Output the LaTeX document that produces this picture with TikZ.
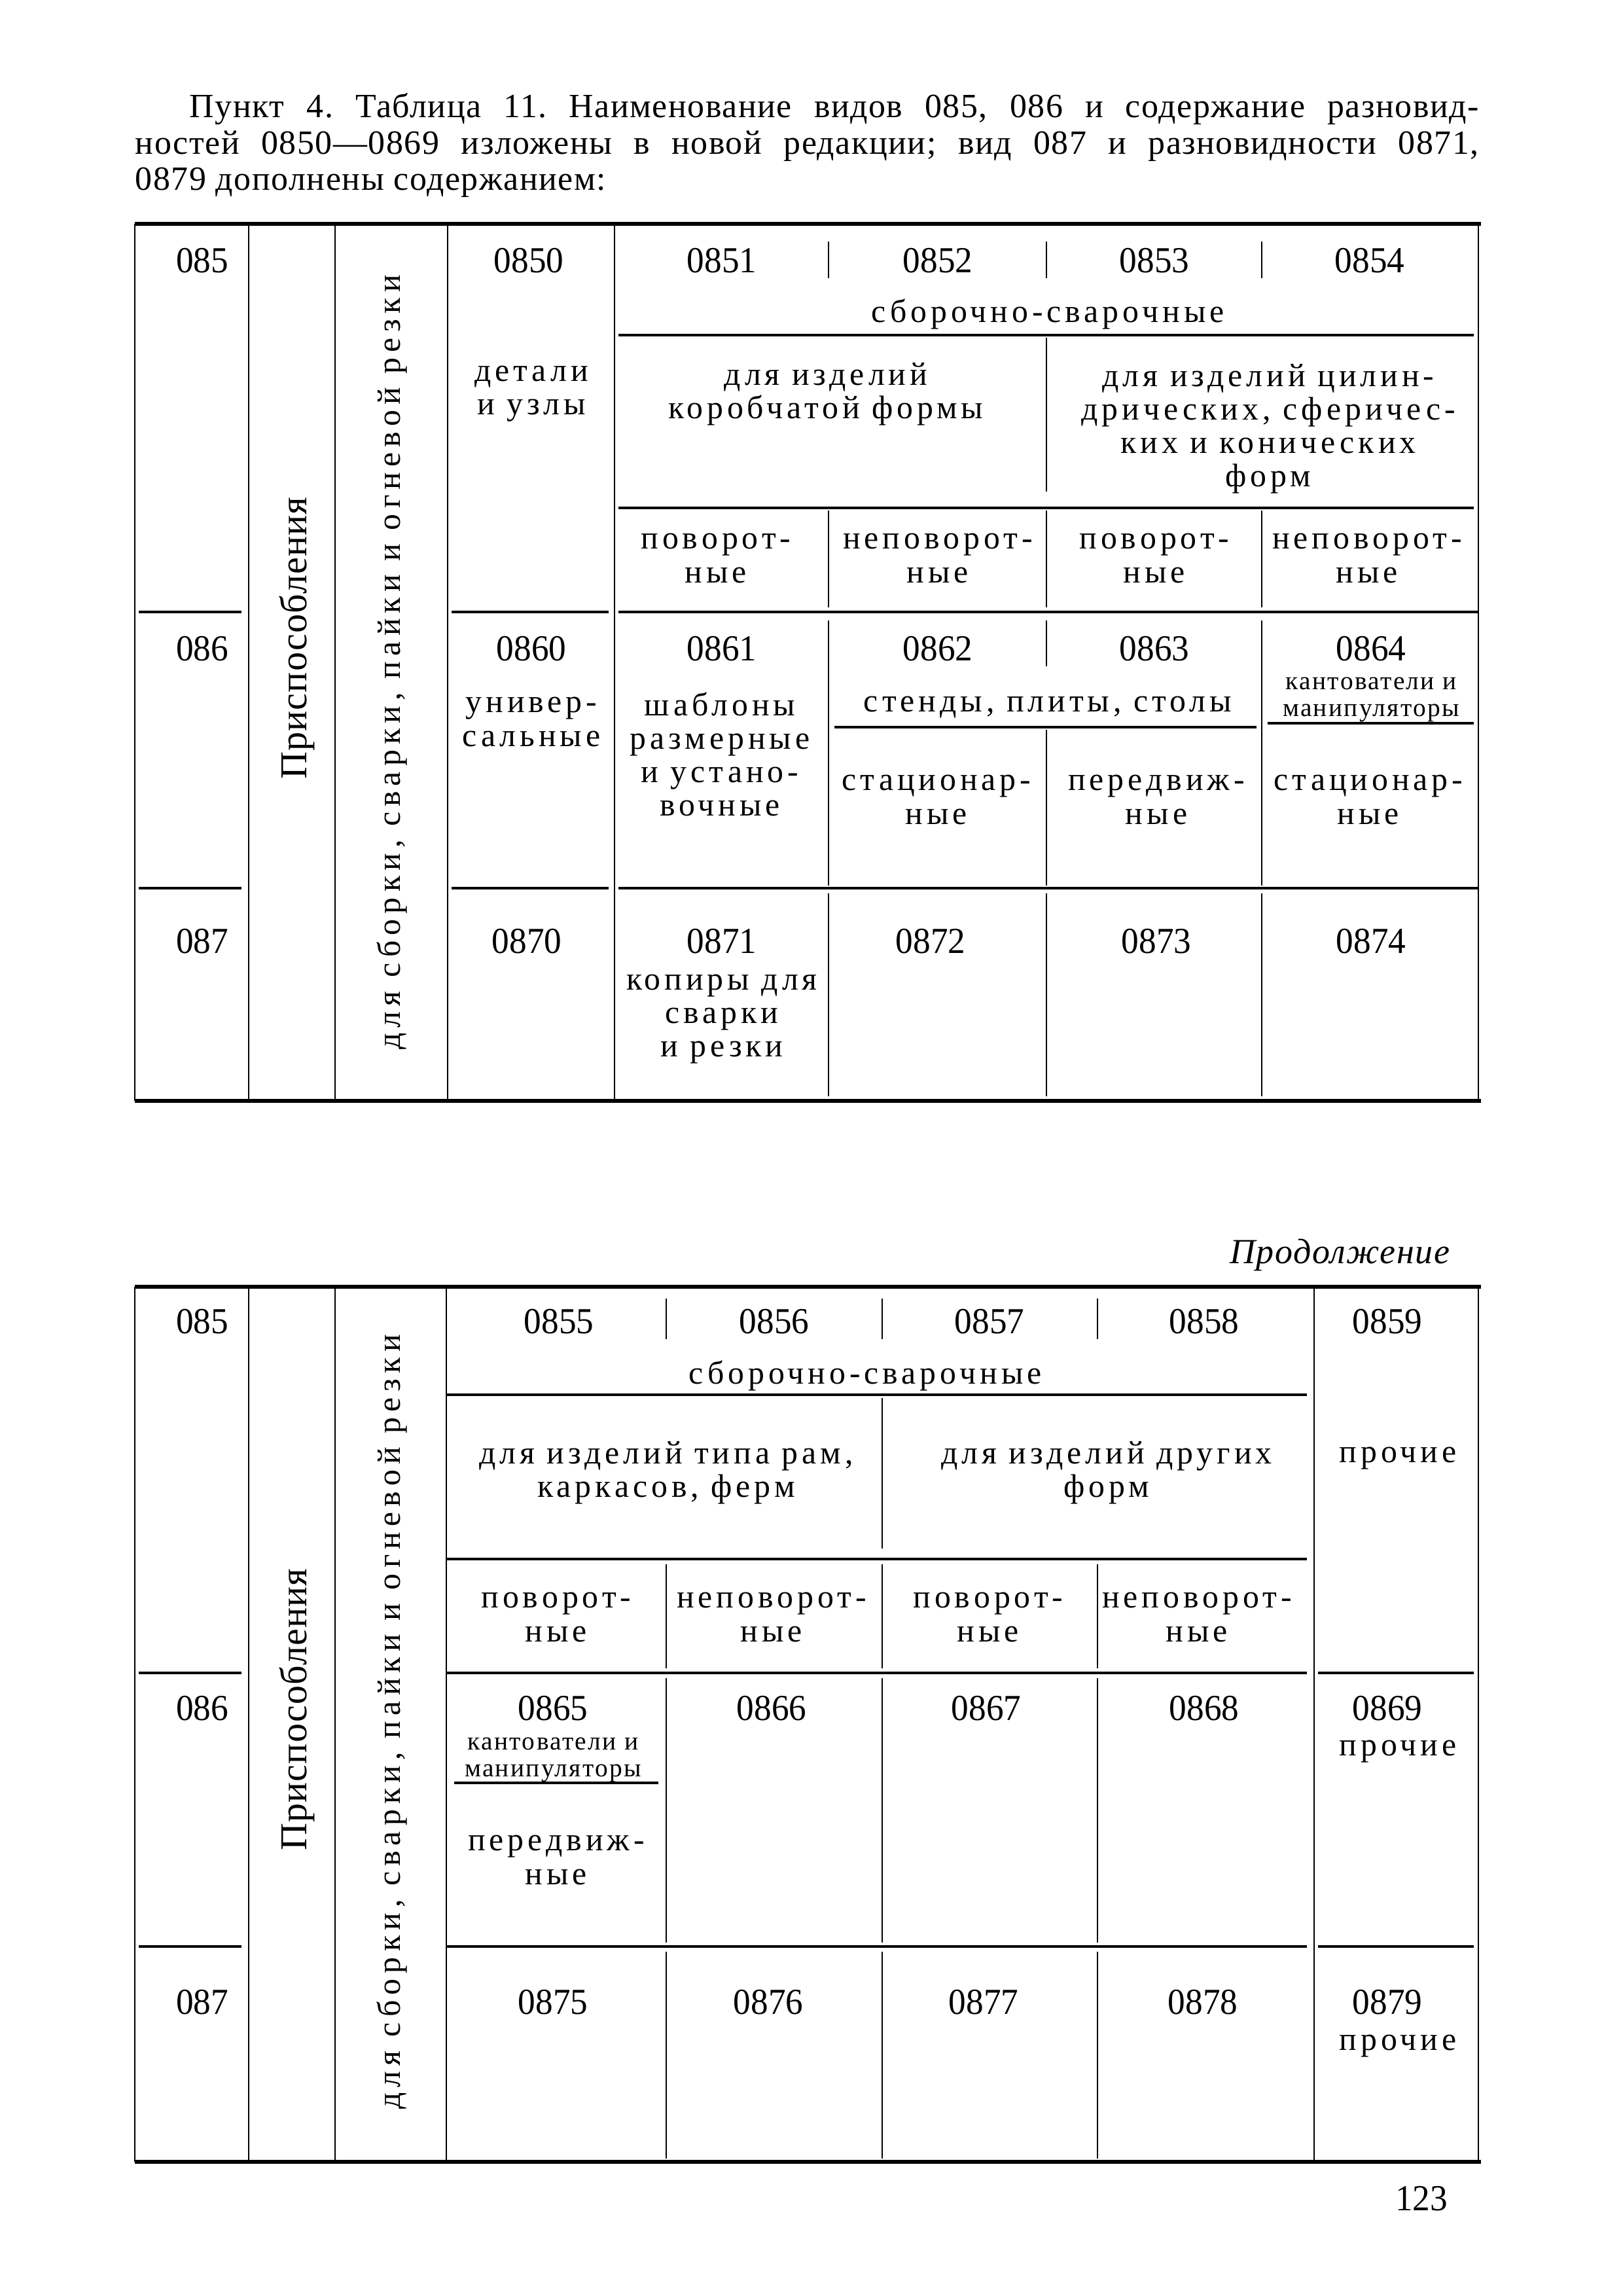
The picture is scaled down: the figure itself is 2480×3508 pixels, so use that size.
\documentclass[tikz,border=0pt]{standalone}
\usepackage{fontspec}
\setmainfont{Liberation Serif}
\newfontfamily\digfamily[FakeStretch=0.95]{Liberation Serif}
\newfontfamily\tabfamily[LetterSpace=12]{Liberation Serif}
\newfontfamily\rotfamily[LetterSpace=16.5]{Liberation Serif}
\newfontfamily\prisfamily[LetterSpace=2]{Liberation Serif}
\newfontfamily\smlfamily[LetterSpace=6]{Liberation Serif}
\newfontfamily\parfamily[LetterSpace=3]{Liberation Serif}
\newfontfamily\contfont[LetterSpace=3]{Liberation Serif}
\tikzset{
  num/.style={font=\digfamily\fontsize{13.5}{13.5}\selectfont, inner sep=0pt},
  txt/.style={font=\tabfamily\fontsize{12}{12.3}\selectfont, align=center, inner sep=0pt},
  sml/.style={font=\smlfamily\fontsize{9.5}{9.7}\selectfont, align=center, inner sep=0pt},
  rottxt/.style={font=\rotfamily\fontsize{12}{12}\selectfont, rotate=90, inner sep=0pt},
  pristxt/.style={font=\prisfamily\fontsize{14}{14}\selectfont, rotate=90, inner sep=0pt},
  vl/.style={line width=0.6pt},
  hl/.style={line width=0.8pt},
  thk/.style={line width=1.3pt},
}
\begin{document}
\begin{tikzpicture}[x=0.2409pt,y=-0.2409pt]
\useasboundingbox (0,0) rectangle (2480,3508);
\fill[white] (0,0) rectangle (2480,3508);

% ---------- paragraph ----------
\node[anchor=north west, inner sep=0pt, text width=494.6pt, align=justify,
      font=\parfamily\fontsize{12.5}{13.3}\selectfont\frenchspacing] (para) at (206,142)
 {\hspace*{20pt}Пункт 4. Таблица 11. Наименование видов 085, 086 и содержание разновид-\linebreak
 ностей 0850—0869 изложены в новой редакции; вид 087 и разновидности 0871,\linebreak
 0879 дополнены содержанием:};

% ---------- top table lines ----------
\draw[thk] (206,342) -- (2263,342);
\draw[thk] (206,1682) -- (2263,1682);
\foreach \x in {206,380,512,684,939,2259} \draw[vl] (\x,342) -- (\x,1682);
\foreach \x in {1266,1599,1928} \draw[vl] (\x,369) -- (\x,425);
\draw[vl] (1599,516) -- (1599,751);
\foreach \x in {1266,1599,1928} \draw[vl] (\x,780) -- (\x,928);
\draw[vl] (1266,948) -- (1266,1353);
\draw[vl] (1599,948) -- (1599,1018);
\draw[vl] (1599,1115) -- (1599,1353);
\draw[vl] (1928,948) -- (1928,1353);
\foreach \x in {1266,1599,1928} \draw[vl] (\x,1365) -- (\x,1675);
\draw[hl] (945,512) -- (2252,512);
\draw[hl] (945,776) -- (2252,776);
\draw[hl] (1275,1111) -- (1920,1111);
\draw[hl] (1937,1105) -- (2252,1105);
\foreach \y in {935,1357} {
  \draw[hl] (212,\y) -- (369,\y);
  \draw[hl] (690,\y) -- (930,\y);
  \draw[hl] (945,\y) -- (2259,\y);
}

% ---------- top table text ----------
\node[num] (t085) at (309,398) {085};
\node[num] (t086) at (309,991) {086};
\node[num] (t087) at (309,1438) {087};
\node[pristxt] (tpris) at (454,975) {Приспособления};
\node[rottxt] (tdlya) at (599,1012) {для сборки, сварки, пайки и огневой резки};

\node[num] (t0850) at (808,398) {0850};
\node[num] (t0851) at (1103,398) {0851};
\node[num] (t0852) at (1433,398) {0852};
\node[num] (t0853) at (1764,398) {0853};
\node[num] (t0854) at (2093,398) {0854};
\node[txt] (tdet) at (812,602) {детали\\и узлы};
\node[txt] (tsb) at (1601,480) {сборочно-сварочные};
\node[txt] (tkor) at (1262,602) {для изделий\\коробчатой формы};
\node[txt] (tcil) at (1938,655) {для изделий цилин-\\дрических, сферичес-\\ких и конических\\форм};
\node[txt] (tp1) at (1094,853) {поворот-\\ные};
\node[txt] (tn1) at (1433,853) {неповорот-\\ные};
\node[txt] (tp2) at (1764,853) {поворот-\\ные};
\node[txt] (tn2) at (2089,853) {неповорот-\\ные};

\node[num] (t0860) at (812,991) {0860};
\node[num] (t0861) at (1103,991) {0861};
\node[num] (t0862) at (1433,991) {0862};
\node[num] (t0863) at (1764,991) {0863};
\node[num] (t0864) at (2095,991) {0864};
\node[txt] (tuni) at (812,1103) {универ-\\сальные};
\node[txt] (tsha) at (1100,1152) {шаблоны\\размерные\\и устано-\\вочные};
\node[txt] (tste) at (1601,1081) {стенды, плиты, столы};
\node[sml] (tkan) at (2095,1069) {кантователи и\\манипуляторы};
\node[txt] (tst1) at (1431,1222) {стационар-\\ные};
\node[txt] (tpe1) at (1767,1222) {передвиж-\\ные};
\node[txt] (tst2) at (2091,1222) {стационар-\\ные};

\node[num] (t0870) at (805,1438) {0870};
\node[num] (t0871) at (1103,1438) {0871};
\node[num] (t0872) at (1422,1438) {0872};
\node[num] (t0873) at (1767,1438) {0873};
\node[num] (t0874) at (2095,1438) {0874};
\node[txt] (tkop) at (1103,1557) {копиры для\\сварки\\и резки};

% ---------- continuation ----------
\node[anchor=east, inner sep=0pt, font=\contfont\itshape\fontsize{13}{13}\selectfont] (cont) at (2216,1917) {Продолжение};

% ---------- bottom table lines ----------
\draw[thk] (206,1966) -- (2263,1966);
\draw[thk] (206,3303) -- (2263,3303);
\foreach \x in {206,380,512,682,2008,2259} \draw[vl] (\x,1966) -- (\x,3303);
\foreach \x in {1018,1348,1677} \draw[vl] (\x,1984) -- (\x,2046);
\draw[vl] (1348,2136) -- (1348,2366);
\foreach \x in {1018,1348,1677} {
  \draw[vl] (\x,2390) -- (\x,2549);
  \draw[vl] (\x,2564) -- (\x,2968);
  \draw[vl] (\x,2982) -- (\x,3298);
}
\draw[hl] (682,2131) -- (1997,2131);
\draw[hl] (682,2382) -- (1997,2382);
\foreach \y in {2556,2974} {
  \draw[hl] (212,\y) -- (369,\y);
  \draw[hl] (682,\y) -- (1997,\y);
  \draw[hl] (2014,\y) -- (2252,\y);
}
\draw[hl] (694,2724) -- (1006,2724);

% ---------- bottom table text ----------
\node[num] (b085) at (309,2019) {085};
\node[num] (b086) at (309,2610) {086};
\node[num] (b087) at (309,3059) {087};
\node[pristxt] (bpris) at (454,2612) {Приспособления};
\node[rottxt] (bdlya) at (599,2631) {для сборки, сварки, пайки и огневой резки};

\node[num] (b0855) at (854,2019) {0855};
\node[num] (b0856) at (1183,2019) {0856};
\node[num] (b0857) at (1512,2019) {0857};
\node[num] (b0858) at (1840,2019) {0858};
\node[num] (b0859) at (2120,2019) {0859};
\node[txt] (bsb) at (1322,2102) {сборочно-сварочные};
\node[txt] (bram) at (1018,2250) {для изделий типа рам,\\каркасов, ферм};
\node[txt] (bdr) at (1691,2250) {для изделий других\\форм};
\node[txt] (bpr1) at (2136,2228) {прочие};
\node[txt] (bp1) at (850,2471) {поворот-\\ные};
\node[txt] (bn1) at (1179,2471) {неповорот-\\ные};
\node[txt] (bp2) at (1510,2471) {поворот-\\ные};
\node[txt] (bn2) at (1829,2471) {неповорот-\\ные};

\node[num] (b0865) at (845,2610) {0865};
\node[num] (b0866) at (1179,2610) {0866};
\node[num] (b0867) at (1507,2610) {0867};
\node[num] (b0868) at (1840,2610) {0868};
\node[num] (b0869) at (2120,2610) {0869};
\node[sml] (bkan) at (845,2689) {кантователи и\\манипуляторы};
\node[txt] (bpe) at (850,2842) {передвиж-\\ные};
\node[txt] (bpr2) at (2136,2676) {прочие};

\node[num] (b0875) at (845,3059) {0875};
\node[num] (b0876) at (1174,3059) {0876};
\node[num] (b0877) at (1503,3059) {0877};
\node[num] (b0878) at (1838,3059) {0878};
\node[num] (b0879) at (2120,3059) {0879};
\node[txt] (bpr3) at (2136,3126) {прочие};

\node[num] (page) at (2172,3359) {123};
\end{tikzpicture}
\end{document}
